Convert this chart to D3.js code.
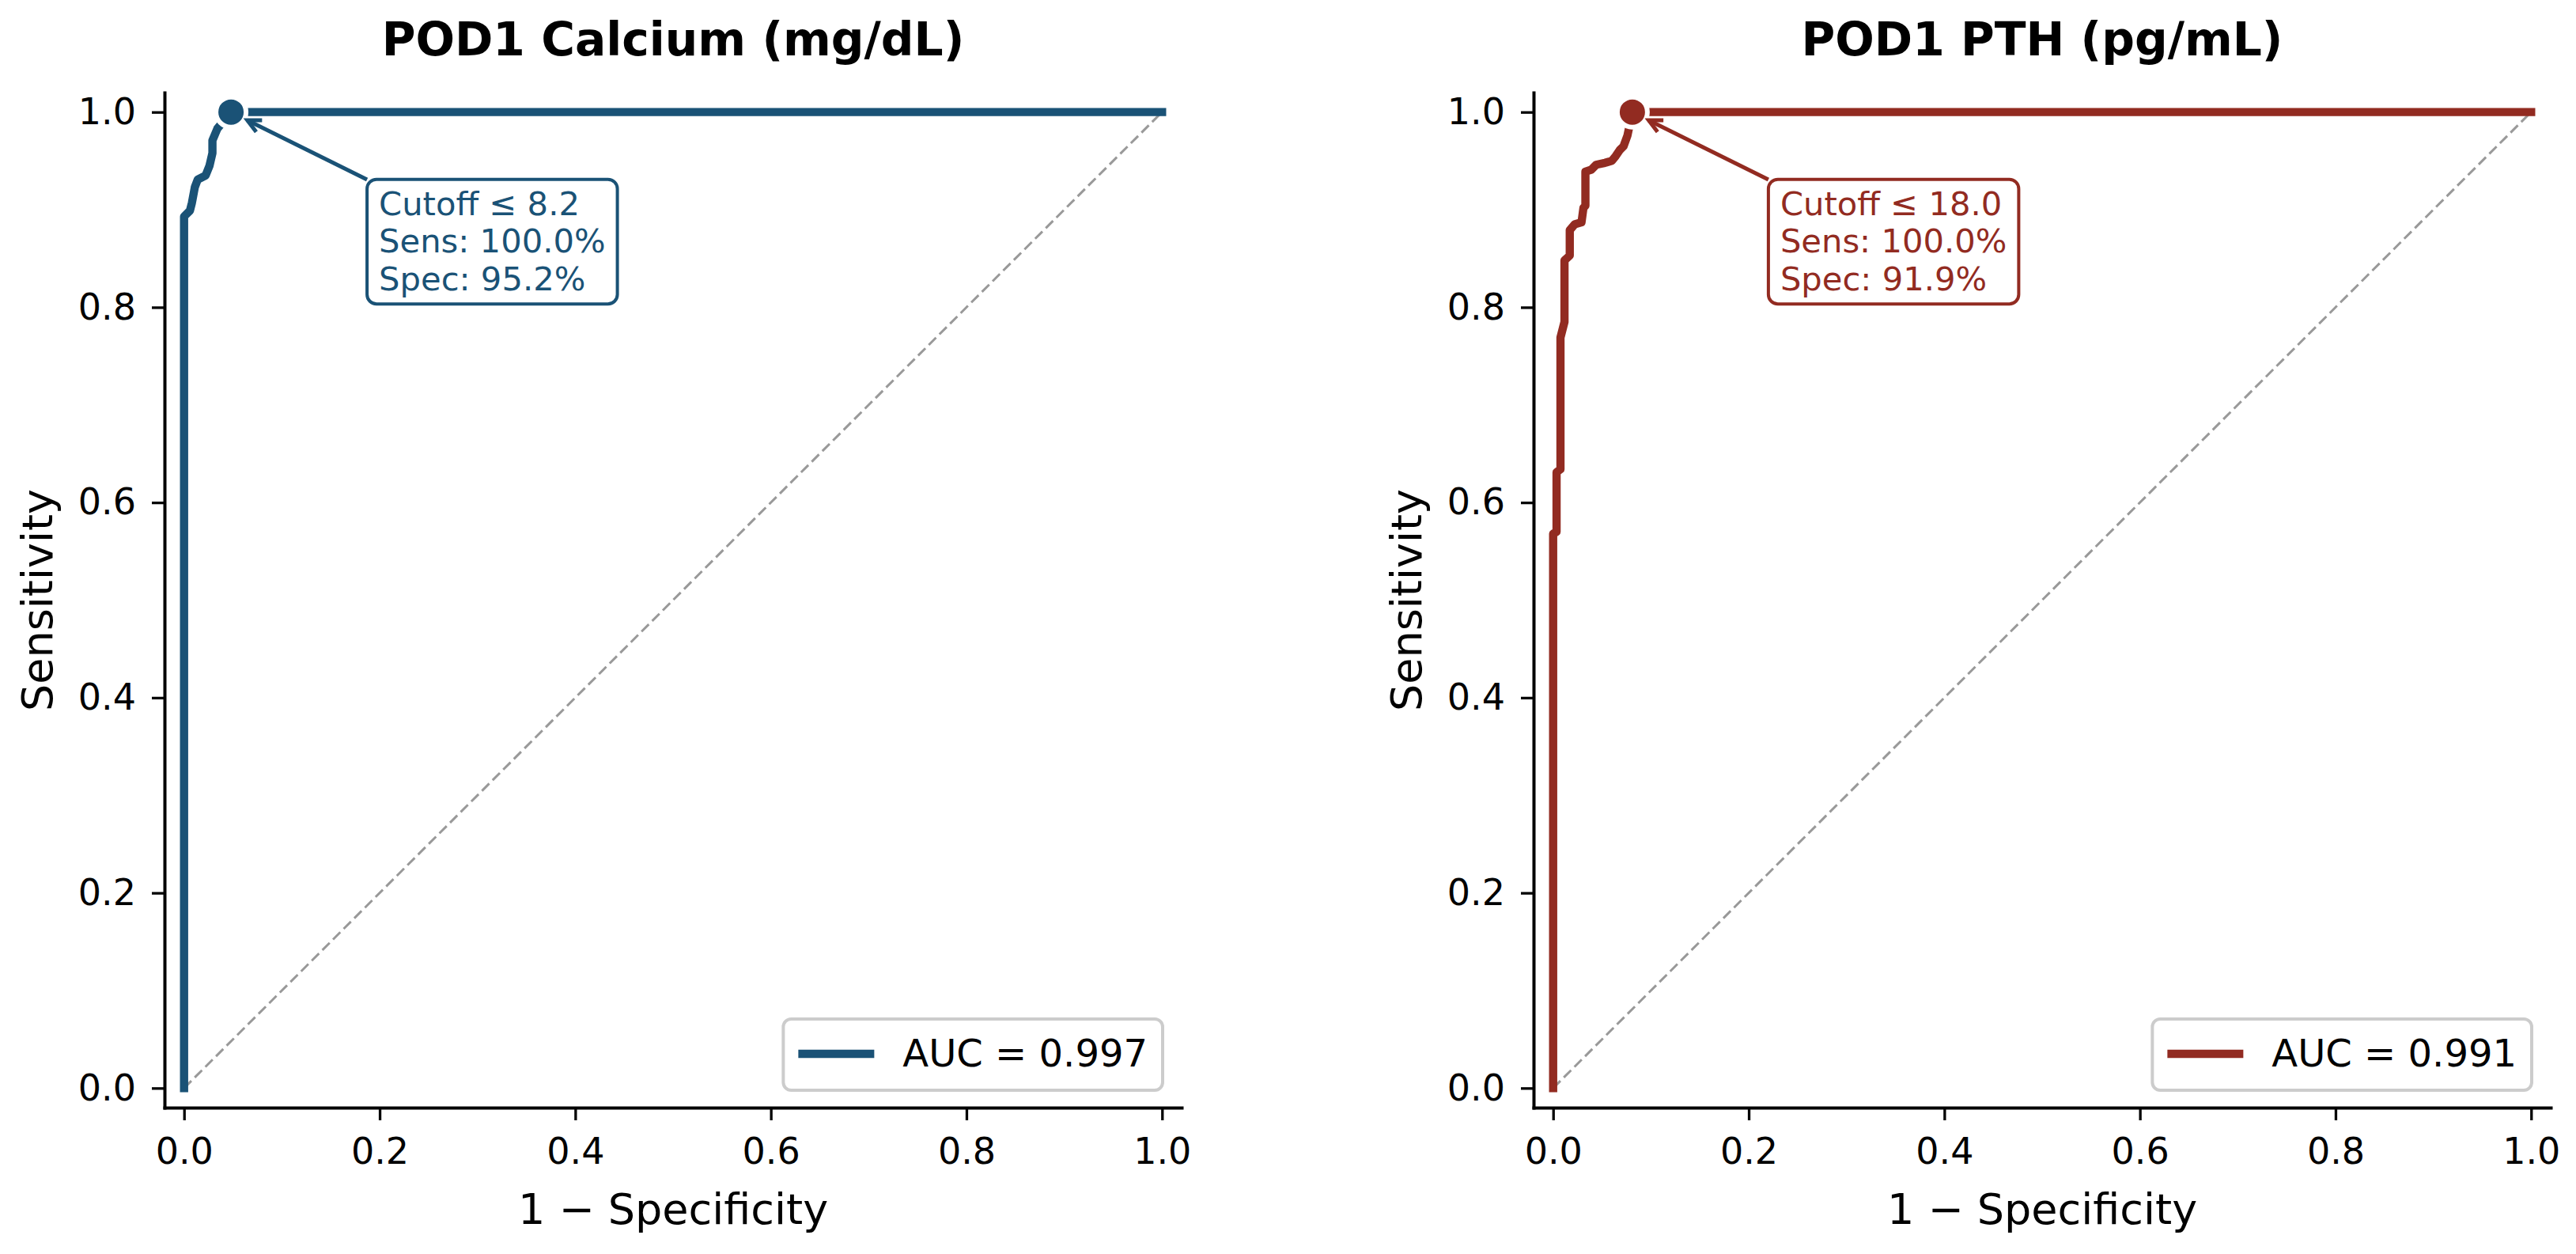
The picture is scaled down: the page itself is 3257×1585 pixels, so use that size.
<!DOCTYPE html>
<html>
<head>
<meta charset="utf-8">
<script src="https://cdnjs.cloudflare.com/ajax/libs/d3/7.8.5/d3.min.js"></script>
<style>
  body { margin: 0; background: #fff; }
  text { font-family: "DejaVu Sans", sans-serif; }
</style>
</head>
<body>
<script>
// ---------------- data ----------------
var panelTitles = ['POD1 Calcium (mg/dL)', 'POD1 PTH (pg/mL)'];
var panelColors = ['#1a5276', '#922b21'];
var aucLabels = ['AUC = 0.997', 'AUC = 0.991'];
var cutoffLabels = [
  ['Cutoff \u2264 8.2', 'Sens: 100.0%', 'Spec: 95.2%'],
  ['Cutoff \u2264 18.0', 'Sens: 100.0%', 'Spec: 91.9%']
];
var optimalFpr = [0.048, 0.081];
var optimalTpr = [1.0, 1.0];

var calciumFpr = [0, 0, 0.006, 0.008, 0.011, 0.014, 0.022, 0.026, 0.029, 0.029, 0.034, 0.048, 1.0];
var calciumTpr = [0, 0.893, 0.899, 0.907, 0.923, 0.931, 0.935, 0.945, 0.958, 0.971, 0.983, 1.0, 1.0];

var pthFpr = [0, 0, 0.0035, 0.0035, 0.0075, 0.0075, 0.0116, 0.0116, 0.017, 0.017, 0.022, 0.029, 0.031, 0.033, 0.033,
  0.039, 0.044, 0.053, 0.060, 0.064, 0.068, 0.072, 0.076, 0.081, 1.0];
var pthTpr = [0, 0.568, 0.570, 0.631, 0.634, 0.769, 0.785, 0.848, 0.853, 0.879, 0.885, 0.887, 0.902, 0.904, 0.939,
  0.941, 0.946, 0.948, 0.950, 0.955, 0.961, 0.965, 0.976, 1.0, 1.0];

var axisTicks = [0, 0.2, 0.4, 0.6, 0.8, 1.0];
var xLabel = '1 \u2212 Specificity';
var yLabel = 'Sensitivity';

// ---------------- layout ----------------
var WIDTH = 3257, HEIGHT = 1585;
var panelLeft = [208, 1939];
var PANEL_W = 1286;
var TOP = 117, BOTTOM = 1400;

var svg = d3.select('body').append('svg')
  .attr('width', WIDTH)
  .attr('height', HEIGHT);

function drawPanel(i, fpr, tpr) {
  var color = panelColors[i];
  var x = d3.scaleLinear().domain([-0.02, 1.02]).range([panelLeft[i], panelLeft[i] + PANEL_W]);
  var y = d3.scaleLinear().domain([-0.02, 1.02]).range([BOTTOM, TOP]);
  var g = svg.append('g');
  var cx = (x.range()[0] + x.range()[1]) / 2;

  // chance diagonal
  g.append('line')
    .attr('x1', x(0)).attr('y1', y(0))
    .attr('x2', x(1)).attr('y2', y(1))
    .attr('stroke', '#999')
    .attr('stroke-width', 3)
    .attr('stroke-dasharray', '13,6');

  // ROC curve
  var pts = fpr.map(function(f, k) { return [f, tpr[k]]; });
  var line = d3.line().x(function(d) { return x(d[0]); }).y(function(d) { return y(d[1]); });
  g.append('path')
    .attr('d', line(pts))
    .attr('fill', 'none')
    .attr('stroke', color)
    .attr('stroke-width', 10.4)
    .attr('stroke-linejoin', 'round')
    .attr('stroke-linecap', 'square');

  // optimal cutoff marker
  var mx = x(optimalFpr[i]), my = y(optimalTpr[i]);
  g.append('circle')
    .attr('cx', mx).attr('cy', my).attr('r', 19)
    .attr('fill', color)
    .attr('stroke', '#fff')
    .attr('stroke-width', 6);

  // annotation box
  var bx = mx + 172, by = my + 85;
  var lineH = 47.8;
  var ann = g.append('g');
  var rect = ann.append('rect');
  var txt = ann.append('text')
    .attr('font-size', 41.7)
    .attr('fill', color);
  cutoffLabels[i].forEach(function(s, k) {
    txt.append('tspan').attr('x', bx + 15).attr('y', by + 45 + k * lineH).text(s);
  });
  var tw = 0;
  txt.selectAll('tspan').each(function() { tw = Math.max(tw, this.getComputedTextLength()); });
  var bw = tw + 30, bh = 2 * lineH + 62;
  rect.attr('x', bx).attr('y', by).attr('width', bw).attr('height', bh)
    .attr('rx', 12).attr('ry', 12)
    .attr('fill', '#fff').attr('fill-opacity', 0.9)
    .attr('stroke', color).attr('stroke-width', 4);

  // arrow from box centre towards marker, clipped at the box edge
  var ccx = bx + bw / 2, ccy = by + bh / 2;
  var dx = mx - ccx, dy = my - ccy;
  var t = Math.min((bw / 2) / Math.abs(dx), (bh / 2) / Math.abs(dy));
  var sx = ccx + dx * t, sy = ccy + dy * t;
  var len = Math.sqrt(dx * dx + dy * dy);
  var ux = dx / len, uy = dy / len;
  var ex = mx - ux * 23, ey = my - uy * 23;
  g.append('line')
    .attr('x1', sx).attr('y1', sy).attr('x2', ex).attr('y2', ey)
    .attr('stroke', color).attr('stroke-width', 5);
  var hl = 16.7, hw = 8.3;
  var bxh = ex - ux * hl, byh = ey - uy * hl;
  g.append('path')
    .attr('d', 'M' + (bxh - uy * hw) + ',' + (byh + ux * hw) + 'L' + ex + ',' + ey + 'L' + (bxh + uy * hw) + ',' + (byh - ux * hw))
    .attr('fill', 'none').attr('stroke', color).attr('stroke-width', 5)
    .attr('stroke-linejoin', 'miter');
  ann.raise();

  // axes
  var xAxis = d3.axisBottom(x).tickValues(axisTicks).tickFormat(d3.format('.1f'))
    .tickSize(16).tickSizeOuter(0).tickPadding(22);
  var yAxis = d3.axisLeft(y).tickValues(axisTicks).tickFormat(d3.format('.1f'))
    .tickSize(16).tickSizeOuter(0).tickPadding(20);
  [g.append('g').attr('transform', 'translate(0,' + BOTTOM + ')').call(xAxis),
   g.append('g').attr('transform', 'translate(' + panelLeft[i] + ',0)').call(yAxis)].forEach(function(ax) {
    ax.select('.domain').attr('stroke', '#000').attr('stroke-width', 4).attr('stroke-linecap', 'square');
    ax.selectAll('.tick line').attr('stroke', '#000').attr('stroke-width', 3.3);
    ax.selectAll('.tick text').attr('font-size', 46).attr('fill', '#000')
      .style('font-family', '"DejaVu Sans", sans-serif');
  });

  // labels and title
  g.append('text')
    .attr('x', cx).attr('y', 1547)
    .attr('text-anchor', 'middle')
    .attr('font-size', 54)
    .text(xLabel);
  var ly = (TOP + BOTTOM) / 2;
  g.append('text')
    .attr('transform', 'translate(' + (panelLeft[i] - 142) + ',' + ly + ') rotate(-90)')
    .attr('text-anchor', 'middle')
    .attr('font-size', 54)
    .text(yLabel);
  g.append('text')
    .attr('x', cx).attr('y', 70)
    .attr('text-anchor', 'middle')
    .attr('font-size', 58.3)
    .attr('font-weight', 'bold')
    .text(panelTitles[i]);

  // legend (lower right)
  var leg = g.append('g');
  var lRect = leg.append('rect');
  var lText = leg.append('text').attr('font-size', 48).text(aucLabels[i]);
  var ltw = lText.node().getComputedTextLength();
  var lw = 19 + 96 + 36 + ltw + 19, lh = 90;
  var lx = x.range()[1] - 24 - lw, lyb = BOTTOM - 22;
  lRect.attr('x', lx).attr('y', lyb - lh).attr('width', lw).attr('height', lh)
    .attr('rx', 10).attr('ry', 10)
    .attr('fill', '#fff').attr('fill-opacity', 0.8)
    .attr('stroke', '#ccc').attr('stroke-width', 4);
  leg.append('line')
    .attr('x1', lx + 19).attr('x2', lx + 19 + 96)
    .attr('y1', lyb - 46).attr('y2', lyb - 46)
    .attr('stroke', color).attr('stroke-width', 10.4);
  lText.attr('x', lx + 19 + 96 + 36).attr('y', lyb - 30);
}

drawPanel(0, calciumFpr, calciumTpr);
drawPanel(1, pthFpr, pthTpr);
</script>
</body>
</html>
